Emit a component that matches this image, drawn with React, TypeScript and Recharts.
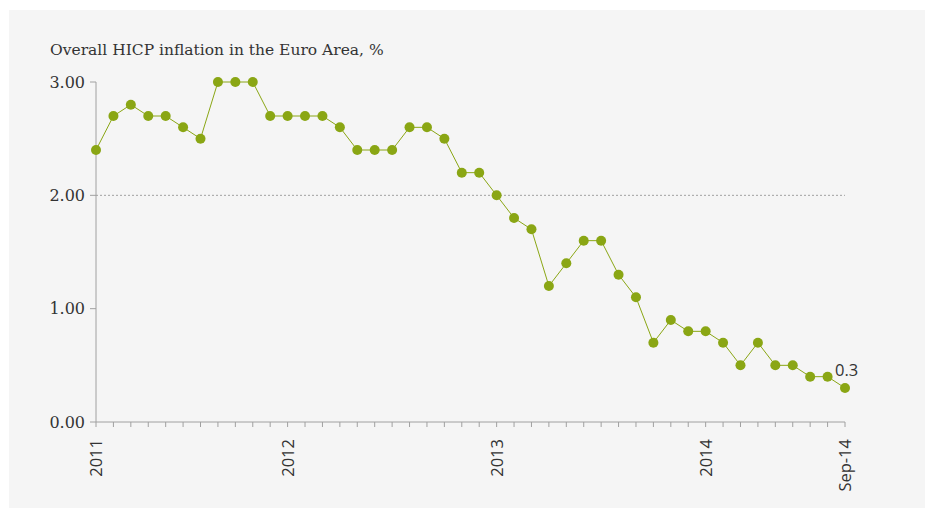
import React from "react";
import { LineChart, Line, XAxis, YAxis, ReferenceLine, LabelList } from "recharts";

const months = [
  "Feb-11", "Mar-11", "Apr-11", "May-11", "Jun-11", "Jul-11", "Aug-11", "Sep-11", "Oct-11", "Nov-11", "Dec-11",
  "Jan-12", "Feb-12", "Mar-12", "Apr-12", "May-12", "Jun-12", "Jul-12", "Aug-12", "Sep-12", "Oct-12", "Nov-12", "Dec-12",
  "Jan-13", "Feb-13", "Mar-13", "Apr-13", "May-13", "Jun-13", "Jul-13", "Aug-13", "Sep-13", "Oct-13", "Nov-13", "Dec-13",
  "Jan-14", "Feb-14", "Mar-14", "Apr-14", "May-14", "Jun-14", "Jul-14", "Aug-14", "Sep-14",
];

const hicp = [
  2.4, 2.7, 2.8, 2.7, 2.7, 2.6, 2.5, 3.0, 3.0, 3.0, 2.7,
  2.7, 2.7, 2.7, 2.6, 2.4, 2.4, 2.4, 2.6, 2.6, 2.5, 2.2, 2.2,
  2.0, 1.8, 1.7, 1.2, 1.4, 1.6, 1.6, 1.3, 1.1, 0.7, 0.9, 0.8,
  0.8, 0.7, 0.5, 0.7, 0.5, 0.5, 0.4, 0.4, 0.3,
];

const xTickLabels: Record<string, string> = {
  "Feb-11": "2011",
  "Jan-12": "2012",
  "Jan-13": "2013",
  "Jan-14": "2014",
  "Sep-14": "Sep-14",
};

const yTicks = [0, 1, 2, 3];

const title = "Overall HICP inflation in the Euro Area, %";

const data = months.map((m, i) => ({ month: m, value: hicp[i] }));

const GREEN = "#8aa614";
const AXIS = "#a0a0a0";
const TEXT = "#333333";

const XTick = (props: any) => {
  const { x, y, payload } = props;
  const label = xTickLabels[payload.value];
  if (!label) return <g />;
  return (
    <g transform={`translate(${x},${y + 10}) rotate(-90)`}>
      <text
        x={0}
        y={0}
        dy="0.36em"
        textAnchor="end"
        fill={TEXT}
        fontFamily="'Open Sans', sans-serif"
        fontSize={16.5}
      >
        {label}
      </text>
    </g>
  );
};

const lastIndex = hicp.length - 1;

const LastLabel = (props: any) => {
  const { x, y, index, value } = props;
  if (index !== lastIndex) return null;
  return (
    <text x={x - 10} y={y - 12} fill={TEXT} fontFamily="'Open Sans', sans-serif" fontSize={16.5}>
      {value}
    </text>
  );
};

export default function App() {
  return (
    <div
      style={{
        position: "relative",
        marginLeft: 1,
        marginTop: 2,
        width: 916,
        height: 498,
        background: "#f5f5f5",
      }}
    >
      <svg width={916} height={498} style={{ position: "absolute", left: 0, top: 0, pointerEvents: "none" }}>
        <text x={41} y={45} fill={TEXT} fontFamily="'DejaVu Serif', serif" fontSize={15.5}>
          {title}
        </text>
      </svg>
      <LineChart
        width={916}
        height={498}
        data={data}
        margin={{ top: 72, right: 80, left: 0, bottom: 0 }}
      >
        <XAxis
          dataKey="month"
          interval={0}
          height={86}
          tickSize={5}
          tickLine={{ stroke: AXIS }}
          axisLine={{ stroke: AXIS }}
          tick={<XTick />}
        />
        <YAxis
          domain={[0, 3]}
          ticks={yTicks}
          width={87}
          tickSize={6}
          tickMargin={5}
          tickLine={{ stroke: AXIS }}
          axisLine={{ stroke: AXIS }}
          tickFormatter={(v: number) => v.toFixed(2)}
          tick={{ fill: TEXT, fontFamily: "'DejaVu Serif', serif", fontSize: 16 }}
        />
        <ReferenceLine y={2} stroke={AXIS} strokeDasharray="2 2" />
        <Line
          type="linear"
          dataKey="value"
          stroke={GREEN}
          strokeWidth={1}
          dot={{ r: 5, fill: GREEN, stroke: "none" }}
          activeDot={false}
          isAnimationActive={false}
        >
          <LabelList dataKey="value" content={<LastLabel />} />
        </Line>
      </LineChart>
    </div>
  );
}
